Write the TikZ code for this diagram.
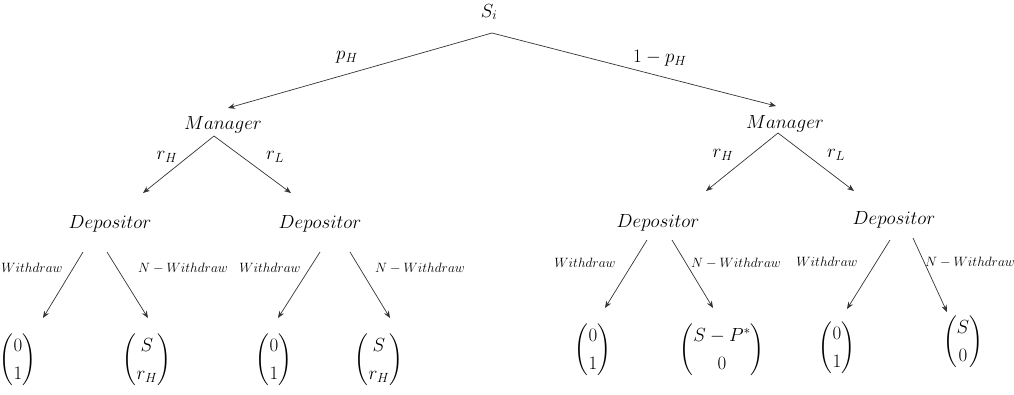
\RequirePackage{fix-cm}
\documentclass[tikz,border=0pt]{standalone}
\usepackage{amsmath}
\usetikzlibrary{arrows.meta,calc}
\renewcommand{\arraystretch}{1.2}
\begin{document}
\begin{tikzpicture}[x=1pt,y=-1pt,
  big/.style={inner sep=0pt, font=\fontsize{19}{23}\selectfont, text height=14pt, text depth=4pt},
  lab/.style={inner sep=0pt, font=\fontsize{19}{23}\selectfont},
  small/.style={inner sep=0pt, font=\fontsize{13.5}{16}\selectfont},
  vec/.style={inner sep=0pt, font=\fontsize{19}{23}\selectfont},
  arr/.style={-{Stealth[length=7pt,width=5.5pt]}, line width=0.7pt, draw=black!80},
]
\useasboundingbox (0,0) rectangle (1014,394);

% main nodes
\node[big] (Si) at (489,12) {$S_i$};
\node[big] (ML) at (223,124) {$Manager$};
\node[big] (MR) at (785,123) {$Manager$};
\node[big] (D1) at (110,223) {$Depositor$};
\node[big] (D2) at (320,223) {$Depositor$};
\node[big] (D3) at (658,222) {$Depositor$};
\node[big] (D4) at (894,219) {$Depositor$};

% payoff vectors
\node[vec] (V1) at (18,360) {$\begin{pmatrix}0\\1\end{pmatrix}$};
\node[vec] (V2) at (147,360) {$\begin{pmatrix}S\\r_H\end{pmatrix}$};
\node[vec] (V3) at (274,360) {$\begin{pmatrix}0\\1\end{pmatrix}$};
\node[vec] (V4) at (379,360) {$\begin{pmatrix}S\\r_H\end{pmatrix}$};
\node[vec] (V5) at (593,350) {$\begin{pmatrix}0\\1\end{pmatrix}$};
\node[vec] (V6) at (722,350) {$\begin{pmatrix}S-P^*\\0\end{pmatrix}$};
\node[vec] (V7) at (837,348) {$\begin{pmatrix}0\\1\end{pmatrix}$};
\node[vec] (V8) at (963,342) {$\begin{pmatrix}S\\0\end{pmatrix}$};

% edge labels
\node[lab] (pH) at (347,57) {$p_H$};
\node[lab] (qH) at (660,58) {$1-p_H$};
\node[lab] (rH1) at (167,157) {$r_H$};
\node[lab] (rL1) at (275,157) {$r_L$};
\node[lab] (rH2) at (723,155) {$r_H$};
\node[lab] (rL2) at (836,155) {$r_L$};
\node[small] (W1) at (32,268) {$Withdraw$};
\node[small] (NW1) at (183,268) {$N-Withdraw$};
\node[small] (W2) at (270,268) {$Withdraw$};
\node[small] (NW2) at (420,268) {$N-Withdraw$};
\node[small] (W3) at (585,263) {$Withdraw$};
\node[small] (NW3) at (736,263) {$N-Withdraw$};
\node[small] (W4) at (827,262) {$Withdraw$};
\node[small] (NW4) at (970,262) {$N-Withdraw$};

% connectors
\draw[arr] ($(Si.center)+(3,21)$) -- ($(ML.center)+(5,-16)$);
\draw[arr] ($(Si.center)+(3,21)$) -- ($(MR.center)+(-9,-17)$);

\draw[arr] ($(ML.center)+(-9,12)$) -- ($(D1.center)+(33,-30)$);
\draw[arr] ($(ML.center)+(-9,12)$) -- ($(D2.center)+(-29,-30)$);
\draw[arr] ($(MR.center)+(-7,10)$) -- ($(D3.center)+(48,-31)$);
\draw[arr] ($(MR.center)+(-7,10)$) -- ($(D4.center)+(-40,-28)$);

\draw[arr] ($(D1.center)+(-27,29)$) -- ($(V1.center)+(25,-42)$);
\draw[arr] ($(D1.center)+(-3,29)$) -- ($(V2.center)+(1,-42)$);
\draw[arr] ($(D2.center)+(0,29)$) -- ($(V3.center)+(4,-42)$);
\draw[arr] ($(D2.center)+(30,29)$) -- ($(V4.center)+(11,-42)$);
\draw[arr] ($(D3.center)+(-11,18)$) -- ($(V5.center)+(12,-42)$);
\draw[arr] ($(D3.center)+(14,18)$) -- ($(V6.center)+(-9,-42)$);
\draw[arr] ($(D4.center)+(-4,21)$) -- ($(V7.center)+(10,-39)$);
\draw[arr] ($(D4.center)+(19,19)$) -- ($(V8.center)+(-16,-30)$);
\end{tikzpicture}
\end{document}
